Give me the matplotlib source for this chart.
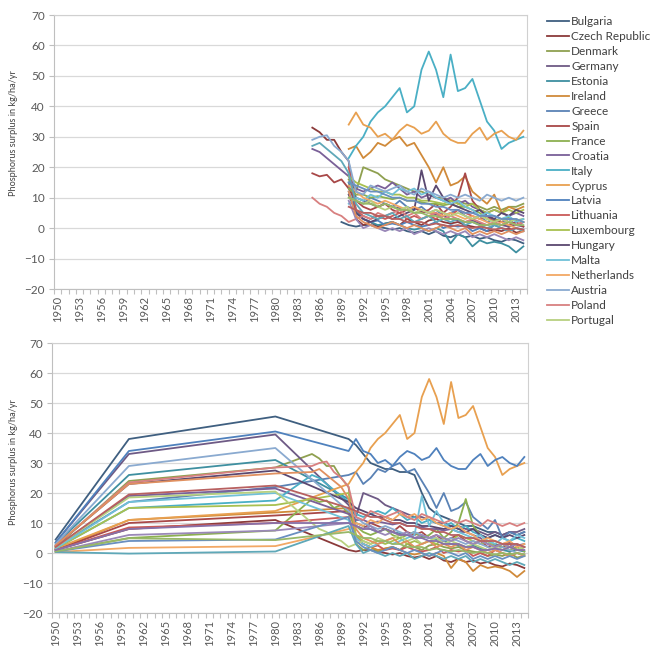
import numpy as np
import matplotlib
matplotlib.use('Agg')
import matplotlib.pyplot as plt

plt.rcParams['font.family'] = ['Lato', 'DejaVu Sans']

# ---------------- data ----------------
countries = ['Bulgaria', 'Czech Republic', 'Denmark', 'Germany', 'Estonia', 'Ireland',
             'Greece', 'Spain', 'France', 'Croatia', 'Italy', 'Cyprus', 'Latvia',
             'Lithuania', 'Luxembourg', 'Hungary', 'Malta', 'Netherlands', 'Austria',
             'Poland', 'Portugal', 'Romania', 'Slovenia', 'Slovakia', 'Finland',
             'Sweden', 'United Kingdom']
legend_count = 21

bulgaria = [2, 1, 0.5, 1, 1, 0.5, 0, -0.5, 0, -1, -1.5, -1, -2, -1, -2.5, -3, -2, -3, -2.5, -3.5, -3, -4, -4.5, -3.5, -4, -5]
czech = [33, 31.5, 29, 29, 25, 22, 3, 1, 2, 0.5, 1.5, 2, 1, 3, 2, 1, 2.5, 3, 2, 1.5, 2, 1, 0.5, 0, -1, -0.5, -1, 0, -1.5, -1]
denmark = [16, 12, 20, 19, 18, 16, 15, 14, 13, 12, 12, 11, 10, 10, 9, 9, 8, 8, 7, 6, 7, 6, 7, 7, 8]
germany = [18, 10, 9, 8, 7, 8, 7, 6.5, 6, 7, 5.5, 5, 4.5, 4, 3, 2.5, 2, 2.5, 1.5, 1, 1.5, 1, 0.5, 1, 0.5]
estonia = [15, 6, 3, 2, 1, 1.5, 2, 1, 0, -0.5, 0, -1, 0, -1, -5, -2, -3, -6, -4, -5, -4.5, -5, -6, -8, -6]
ireland = [26, 27, 23, 25, 28, 27, 29, 30, 27, 28, 24, 20, 15, 20, 14, 15, 17, 12, 10, 8, 11, 5, 7, 6, 7]
greece = [14, 9, 8, 10, 9, 8, 7, 9, 7, 6, 7, 5, 6, 4, 5, 6, 4, 3, 4, 2, 3, 2, 3, 1, 2]
spain = [18, 17, 17.5, 15, 16, 13, 9, 7, 6, 7, 8, 6, 5, 6, 7, 5, 6, 8, 5, 7, 10, 18, 9, 6, 4, 3, 2, 1, 2, 0.5]
france = [13, 11, 11, 10, 10.5, 10, 9.5, 10, 9, 9, 8.5, 8, 8, 7.5, 8, 7, 7, 6, 5, 3, 2.5, 3, 3.5, 2.5, 3]
croatia = [26, 25, 23, 21, 19, 17, 13, 12, 13, 14, 13, 15, 13, 11, 12, 10, 11, 10, 9, 10, 8, 9, 7, 6, 5, 6, 5, 4, 5, 4]
italy = [23, 27, 30, 35, 38, 40, 43, 46, 38, 40, 52, 58, 52, 43, 57, 45, 46, 49, 42, 35, 32, 26, 28, 29, 30]
cyprus = [34, 38, 34, 33, 30, 31, 29, 32, 34, 33, 31, 32, 35, 31, 29, 28, 28, 31, 33, 29, 31, 32, 30, 29, 32]
latvia = [12, 5, 3, 2, 2.5, 1, 1.5, 1, 2, 1, 0.5, 1, 2, 0, 1, 0.5, 1, -1, 0, -1, 1, 0, -1, 0, -0.5]
lithuania = [20, 6, 4, 3, 4, 3, 4, 5, 3, 4, 3, 4, 3, 5, 4, 6, 5, 4, 3, 4, 2, 3, 2, 1, 2]
luxembourg = [17, 15, 14, 13, 12, 12, 11, 11, 10, 10, 9, 9, 8.5, 8, 9, 8, 7, 8, 6, 5, 6, 5, 6, 5, 6]
hungary = [11, 5, 3, 2, 3, 4, 3, 4, 5, 6, 19, 9, 14, 10, 8, 7, 6, 5, 6, 4, 3, 5, 4, 6, 5]
malta = [8, 10, 9, 11, 10, 12, 11, 13, 12, 13, 11, 12, 10, 9, 8, 9, 7, 6, 4, 5, 4, 3, 4, 2, 3]
netherlands = [14, 12, 10, 9, 8, 9, 8, 7, 6, 7, 6, 5, 5, 4, 5, 4, 3, 4, 3, 2, 1, 2, 1, 0, -1]
austria = [29, 30, 30.5, 27, 25, 22, 12, 11, 14, 13, 12, 13, 14, 12, 11, 13, 12, 11, 10, 11, 10, 11, 10, 9, 11, 10, 9, 10, 9, 10]
poland = [10, 8, 7, 5, 4, 2, 3, 4, 3, 5, 4, 5, 6, 4, 5, 3, 4, 5, 3, 4, 3, 2, 3, 2, 1, 2, 1, 2, 1, 2]
portugal = [10, 9, 8, 9, 7, 6, 7, 6, 7, 5, 6, 5, 6, 5, 4, 5, 4, 3, 4, 3, 2, 3, 2, 3, 2]
romania = [9, 3, 0, 1, 0, -1, 0, -1, 0, -2, -1, 0, -1, -2, -1, -2, -1, -3, -2, -3, -2, -3, -4, -3, -4]
slovenia = [27, 28, 26, 24, 22, 18, 8, 5, 4, 3, 4, 5, 3, 4, 2, 3, 4, 2, 3, 2, 3, 1, 2, 1, 0, 1, 0, -1, 0, -1]
slovakia = [12, 4, 2, 1, 0, 1, 2, 1, 0, 1, 0, -1, 0, 1, 0, -1, 0, -2, -1, -2, -1, -2, -1, -2, -1]
finland = [15, 14, 13, 12, 12, 11, 10, 10, 9, 9, 8, 8, 7, 7, 6, 6, 5, 5, 4, 4, 4, 3, 3, 3, 2]
sweden = [7, 6, 5, 5, 4, 4, 3, 3, 2, 2, 2, 1, 1.5, 1, 0.5, 1, 0.5, 0, 0.5, 0, -0.5, 0, -0.5, 0, -0.5]
uk = [10, 9, 8, 8, 7, 8, 7, 6, 6, 5, 5, 4, 4, 3, 3, 3, 2, 2, 1, 1, 1.5, 1, 2, 1, 1]
start_year = [1989, 1985, 1990, 1990, 1990, 1990, 1990, 1985, 1990, 1985, 1990, 1990, 1990,
              1990, 1990, 1990, 1990, 1990, 1985, 1985, 1990, 1990, 1985, 1990, 1990, 1990, 1990]

# bottom chart: Belgium first, then the same countries
belgium = [38, 36, 33, 30, 29, 28, 28, 27, 27, 26, 20, 15, 13, 12, 11, 10, 9, 9, 8, 7, 7, 6, 7, 6, 7]
belgium_start = 1990
hist_years = [1950, 1960, 1980]
p1950 = [4.5, 1, 2, 3.5, 3, 1, 2, 1, 0.5, 2, 1.5, 1.5, 3.5, 1, 1.5, 2.5, 1.5, 0.3, 3, 2.5, 2, 0.5, 0.3, 2.5, 0.5, 2, 0.5, 1]
p1960 = [38, 8, 24, 33, 26, 11, 17, 10, 5, 19, 15, 11, 34, 8.5, 15, 23, 17, 1.7, 29, 23.5, 18.5, 6, -0.2, 23, 4, 19.5, 4.9, 8]
p1980 = [45.5, 11, 28.5, 39.5, 31, 13.5, 22, 12.5, 7.5, 21.5, 17.5, 14, 40.5, 10, 16, 27.5, 20, 2.3, 35, 28.5, 20.5, 7.5, 0.5, 26.5, 4.5, 22.5, 4.3, 10]

series = [bulgaria, czech, denmark, germany, estonia, ireland, greece, spain, france,
          croatia, italy, cyprus, latvia, lithuania, luxembourg, hungary, malta,
          netherlands, austria, poland, portugal, romania, slovenia, slovakia,
          finland, sweden, uk]

palette = ['#3F5F80', '#8B3A3A', '#8FA050', '#6E5A85', '#3E8FA0', '#D08A3A',
           '#5A82B5', '#A84848', '#8CB050', '#7A6098', '#4AAFC5', '#E8A050',
           '#4F81BD', '#C95A58', '#A8C050', '#5A4870', '#70C0D8', '#F2A865',
           '#8AAAD0', '#D88080', '#B8D080', '#9A88B8', '#5FA8B8', '#E09060',
           '#6A8FC0', '#B86060', '#98B868', '#8870A8']

LW = 1.3
TXT = '#595959'

fig = plt.figure(figsize=(6.52, 6.51), dpi=100)
ax1 = fig.add_axes([54/652, 1-289/651, 473/652, 274/651])
ax2 = fig.add_axes([52/652, 1-613/651, 476/652, 270/651])


def style(ax, label_x, label_y):
    ax.set_xlim(1949.5, 2014.5)
    ax.set_ylim(-20, 70)
    ax.set_yticks(range(-20, 71, 10))
    ax.yaxis.grid(True, color='#D9D9D9', lw=0.9)
    ax.set_axisbelow(True)
    ticks = list(range(1950, 2014, 3))
    ax.set_xticks(ticks)
    ax.set_xticklabels([str(t) for t in ticks], rotation=90, fontsize=8, color=TXT)
    ax.set_xticks(np.arange(1949.5, 2015, 1), minor=True)
    ax.tick_params(axis='x', which='major', length=0, pad=5)
    ax.tick_params(axis='x', which='minor', length=3.5, color='#BFBFBF', width=0.8)
    ax.tick_params(axis='y', length=3.5, color='#BFBFBF', width=0.8, labelsize=8.5,
                   labelcolor=TXT, pad=3)
    for s in ax.spines.values():
        s.set_color('#D0D0D0')
        s.set_linewidth(0.8)
    ax.spines['left'].set_color('#BFBFBF')
    ax.spines['bottom'].set_color('#BFBFBF')
    ax.set_ylabel('Phosphorus surplus in kg/ha/yr', fontsize=6.6, color='#404040')
    ax.yaxis.set_label_coords(label_x, label_y)


style(ax1, -0.076, 0.57)
style(ax2, -0.071, 0.56)

# top chart
handles = []
for i, (name, vals, sy) in enumerate(zip(countries, series, start_year)):
    x = np.arange(sy, sy + len(vals))
    ln, = ax1.plot(x, vals, color=palette[i], lw=LW, solid_joinstyle='round')
    handles.append(ln)

# bottom chart
b_series = [belgium] + series
b_start = [belgium_start] + start_year
for i, (vals, sy) in enumerate(zip(b_series, b_start)):
    x = hist_years + list(range(sy, sy + len(vals)))
    y = [p1950[i], p1960[i], p1980[i]] + list(vals)
    ax2.plot(x, y, color=palette[i], lw=LW, solid_joinstyle='round')

leg = fig.legend(handles[:legend_count], countries[:legend_count], loc='upper left',
                 bbox_to_anchor=(547/652, 1-16/651), frameon=False, fontsize=8.5,
                 handlelength=1.9, handletextpad=0.15, labelspacing=0.335,
                 borderaxespad=0, borderpad=0)
for t in leg.get_texts():
    t.set_color('#404040')

fig.savefig('out.png', dpi=100, facecolor='white')
